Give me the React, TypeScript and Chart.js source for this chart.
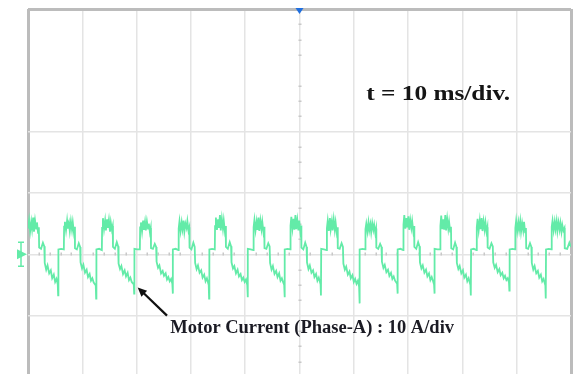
import React, { useEffect, useRef } from "react";
import { Chart, registerables } from "chart.js";

Chart.register(...registerables);

// Oscilloscope trace: time (ms) and phase-A current (A), one line per cycle
const timeMs = [
  0, 0.2, 0.4, 0.6, 0.75, 0.95, 1.1, 1.3, 1.5, 1.65, 1.85, 2.0, 2.05, 2.4, 2.75, 3.0, 3.08, 3.35, 3.6, 3.9, 4.2, 4.45, 4.75, 5.0, 5.25, 5.48, 5.55, 5.6, 6.1,
  6.6, 6.65, 6.8, 7.0, 7.2, 7.35, 7.55, 7.7, 7.9, 8.1, 8.25, 8.45, 8.6, 8.65, 9.0, 9.35, 9.6, 9.68, 9.95, 10.2, 10.5, 10.8, 11.05, 11.35, 11.6, 11.85, 12.1, 12.48, 12.55, 12.6, 13.1,
  13.6, 13.65, 13.8, 14.0, 14.2, 14.35, 14.55, 14.7, 14.9, 15.1, 15.25, 15.45, 15.6, 15.65, 16.0, 16.35, 16.6, 16.68, 16.95, 17.2, 17.5, 17.8, 18.05, 18.35, 18.6, 18.85, 19.1, 19.48, 19.55, 19.6, 20.1,
  20.6, 20.65, 20.8, 21.0, 21.2, 21.35, 21.55, 21.7, 21.9, 22.1, 22.25, 22.45, 22.6, 22.65, 23.0, 23.35, 23.6, 23.68, 23.95, 24.2, 24.5, 24.8, 25.05, 25.35, 25.6, 25.85, 26.1, 26.35, 26.58, 26.65, 26.7, 27.2,
  27.7, 27.75, 27.9, 28.1, 28.3, 28.45, 28.65, 28.8, 29.0, 29.2, 29.35, 29.55, 29.7, 29.75, 30.1, 30.45, 30.7, 30.78, 31.05, 31.3, 31.6, 31.9, 32.15, 32.45, 32.7, 32.95, 33.28, 33.35, 33.4, 33.9,
  34.4, 34.45, 34.6, 34.8, 35.0, 35.15, 35.35, 35.5, 35.7, 35.9, 36.05, 36.25, 36.4, 36.45, 36.8, 37.15, 37.4, 37.48, 37.75, 38.0, 38.3, 38.6, 38.85, 39.15, 39.4, 39.65, 39.9, 40.15, 40.38, 40.45, 40.5, 41.0,
  41.5, 41.55, 41.7, 41.9, 42.1, 42.25, 42.45, 42.6, 42.8, 43.0, 43.15, 43.35, 43.5, 43.55, 43.9, 44.25, 44.5, 44.58, 44.85, 45.1, 45.4, 45.7, 45.95, 46.25, 46.5, 46.75, 47.0, 47.18, 47.25, 47.3, 47.8,
  48.3, 48.35, 48.5, 48.7, 48.9, 49.05, 49.25, 49.4, 49.6, 49.8, 49.95, 50.15, 50.3, 50.35, 50.7, 51.05, 51.3, 51.38, 51.65, 51.9, 52.2, 52.5, 52.75, 53.05, 53.3, 53.55, 53.88, 53.95, 54.0, 54.5,
  55.0, 55.05, 55.2, 55.4, 55.6, 55.75, 55.95, 56.1, 56.3, 56.5, 56.65, 56.85, 57.0, 57.05, 57.4, 57.75, 58.0, 58.08, 58.35, 58.6, 58.9, 59.2, 59.45, 59.75, 60.0, 60.25, 60.5, 60.75, 60.98, 61.05, 61.1, 61.6,
  62.1, 62.15, 62.3, 62.5, 62.7, 62.85, 63.05, 63.2, 63.4, 63.6, 63.75, 63.95, 64.1, 64.15, 64.5, 64.85, 65.1, 65.18, 65.45, 65.7, 66.0, 66.3, 66.55, 66.85, 67.1, 67.35, 67.6, 67.98, 68.05, 68.1, 68.6,
  69.1, 69.15, 69.3, 69.5, 69.7, 69.85, 70.05, 70.2, 70.4, 70.6, 70.75, 70.95, 71.1, 71.15, 71.5, 71.85, 72.1, 72.18, 72.45, 72.7, 73.0, 73.3, 73.55, 73.85, 74.1, 74.35, 74.6, 74.78, 74.85, 74.9, 75.4,
  75.9, 75.95, 76.1, 76.3, 76.5, 76.65, 76.85, 77.0, 77.2, 77.4, 77.55, 77.75, 77.9, 77.95, 78.3, 78.65, 78.9, 78.98, 79.25, 79.5, 79.8, 80.1, 80.35, 80.65, 80.9, 81.15, 81.48, 81.55, 81.6, 82.1,
  82.6, 82.65, 82.8, 83.0, 83.2, 83.35, 83.55, 83.7, 83.9, 84.1, 84.25, 84.45, 84.6, 84.65, 85.0, 85.35, 85.6, 85.68, 85.95, 86.2, 86.5, 86.8, 87.05, 87.35, 87.6, 87.85, 88.1, 88.35, 88.58, 88.65, 88.7, 89.2,
  89.7, 89.75, 89.9, 90.1, 90.3, 90.45, 90.65, 90.8, 91.0, 91.2, 91.35, 91.55, 91.7, 91.75, 92.1, 92.45, 92.7, 92.78, 93.05, 93.3, 93.6, 93.9, 94.15, 94.45, 94.7, 94.95, 95.28, 95.35, 95.4, 95.9,
  96.4, 96.45, 96.6, 96.8, 97.0, 97.15, 97.35, 97.5, 97.7, 97.9, 98.05, 98.25, 98.4, 98.6, 98.8, 98.85, 99.3, 99.7, 100,
];

const currentA = [
  4.2, 5.6, 3.8, 5.3, 4.1, 6.0, 3.7, 5.5, 4.2, 5.2, 3.5, 4.4, 1.1, 0.9, 1.9, 1.3, -1.4, -2.5, -1.8, -3.1, -2.6, -3.9, -3.3, -4.5, -4.0, -4.9, -6.7, 0.8, 0.9,
  0.8, 4.5, 5.3, 3.9, 5.5, 4.2, 5.1, 3.8, 5.4, 4.0, 5.2, 3.6, 4.5, 1.0, 0.8, 1.8, 1.2, -1.3, -2.3, -1.7, -3.0, -2.5, -3.7, -3.2, -4.3, -3.9, -4.6, -5.1, -7.2, 0.8, 0.9,
  0.7, 4.3, 5.9, 4.1, 5.5, 3.9, 5.7, 4.3, 5.6, 3.7, 5.2, 4.0, 4.6, 1.2, 0.9, 2.0, 1.3, -1.5, -2.4, -1.9, -3.2, -2.6, -3.6, -3.0, -4.2, -3.8, -4.5, -4.9, -6.4, 0.9, 0.8,
  0.8, 4.4, 5.2, 3.7, 5.5, 4.0, 5.3, 3.9, 5.4, 4.2, 5.0, 3.6, 4.3, 1.0, 0.9, 1.7, 1.2, -1.2, -2.2, -1.8, -3.1, -2.7, -3.5, -3.1, -4.1, -3.7, -4.4, -4.0, -4.8, -6.4, 0.8, 0.9,
  0.7, 4.2, 5.4, 3.8, 5.2, 4.1, 5.5, 3.7, 5.0, 4.3, 5.4, 3.9, 4.4, 1.1, 0.8, 1.9, 1.2, -1.4, -2.4, -1.8, -3.0, -2.6, -3.8, -3.3, -4.4, -3.9, -5.0, -7.2, 0.8, 0.9,
  0.8, 4.6, 6.0, 4.0, 5.7, 4.3, 6.4, 3.9, 5.8, 4.2, 5.5, 3.8, 4.6, 1.2, 0.9, 2.0, 1.3, -1.3, -2.3, -1.9, -3.1, -2.5, -3.6, -3.2, -4.2, -3.8, -4.5, -4.1, -5.0, -7.0, 0.9, 0.8,
  0.7, 4.4, 5.6, 3.9, 5.3, 4.0, 6.0, 3.8, 5.5, 4.1, 5.3, 3.7, 4.5, 1.0, 0.9, 1.8, 1.3, -1.4, -2.5, -1.9, -3.2, -2.7, -3.7, -3.1, -4.3, -3.9, -4.6, -5.0, -7.0, 0.8, 0.9,
  0.8, 4.7, 6.1, 4.2, 5.8, 4.0, 6.4, 4.1, 5.6, 3.9, 5.5, 3.8, 4.7, 1.1, 0.8, 1.9, 1.2, -1.3, -2.4, -1.8, -3.0, -2.6, -3.7, -3.2, -4.3, -3.8, -4.9, -6.7, 0.9, 0.8,
  0.7, 4.3, 5.5, 3.8, 5.9, 4.1, 5.4, 3.9, 5.7, 4.0, 5.2, 3.6, 4.4, 1.0, 0.9, 1.8, 1.2, -1.5, -2.5, -2.0, -3.3, -2.8, -3.9, -3.4, -4.5, -4.0, -4.8, -4.3, -5.3, -8.0, 0.8, 0.9,
  0.8, 4.1, 5.0, 3.7, 5.2, 3.9, 4.9, 3.6, 5.1, 4.0, 4.8, 3.5, 4.2, 1.1, 0.9, 1.7, 1.2, -1.2, -2.2, -1.7, -2.9, -2.5, -3.5, -3.0, -4.0, -3.6, -4.3, -4.8, -6.4, 0.8, 0.9,
  0.7, 4.8, 6.4, 4.2, 5.9, 4.4, 6.2, 4.0, 5.6, 4.3, 5.4, 3.8, 4.6, 1.2, 0.9, 2.0, 1.3, -1.3, -2.3, -1.8, -3.0, -2.5, -3.6, -3.1, -4.2, -3.7, -4.4, -4.9, -6.4, 0.9, 0.8,
  0.8, 4.6, 6.3, 4.1, 5.7, 4.0, 6.4, 3.9, 5.8, 4.2, 5.3, 3.7, 4.5, 1.0, 0.8, 1.9, 1.2, -1.4, -2.4, -1.9, -3.1, -2.6, -3.8, -3.3, -4.4, -3.9, -5.0, -6.7, 0.8, 0.9,
  0.7, 4.4, 5.8, 3.9, 5.5, 4.1, 5.9, 3.8, 5.4, 4.0, 5.2, 3.7, 4.4, 1.1, 0.9, 1.8, 1.3, -1.3, -2.2, -1.7, -2.9, -2.4, -3.4, -3.0, -3.9, -3.5, -4.2, -3.9, -4.6, -5.9, 0.8, 0.9,
  0.8, 4.3, 5.5, 3.8, 5.2, 4.0, 5.4, 3.7, 5.1, 3.9, 5.3, 3.6, 4.3, 1.0, 0.9, 1.8, 1.2, -1.4, -2.5, -1.9, -3.1, -2.7, -3.8, -3.3, -4.4, -4.0, -5.1, -7.2, 0.8, 0.9,
  0.8, 4.5, 5.5, 3.9, 5.3, 4.1, 5.4, 3.8, 5.2, 4.0, 5.1, 3.7, 4.8, 3.9, 4.3, 1.0, 0.9, 1.9, 1.2,
];

// Screen: 10 ms/div horizontally, 10 A/div vertically
const timeRangeMs = [0, 100];
const currentRangeA = [-20, 40];
const hiddenGridA = [30];
const timebaseText = "t = 10 ms/div.";
const traceText = "Motor Current (Phase-A) : 10 A/div";

// annotation anchors (data coordinates)
const timebaseAt = { t: 62.3, a: 25.1 };
const labelAt = { t: 26.2, a: -12.9 };
const arrowFrom = { t: 25.6, a: -10.0 };
const arrowTo = { t: 20.2, a: -5.4 };

const TRACE = "#63eba8";
const SERIF = '"Liberation Serif", "Times New Roman", serif';

const scopePlugin = {
  id: "scopeDecor",
  beforeDatasetsDraw(chart: any) {
    const { ctx, scales } = chart;
    const xs = scales.x;
    const ys = scales.y;
    const y0 = ys.getPixelForValue(0);
    const xc = xs.getPixelForValue(50);
    ctx.save();
    ctx.fillStyle = "#c8c8c8";
    for (let t = timeRangeMs[0]; t <= timeRangeMs[1]; t += 2) {
      if (t % 10 === 0) continue;
      const px = xs.getPixelForValue(t);
      ctx.fillRect(Math.round(px) - 0.5, Math.round(y0) - 1.5, 1.5, 3);
    }
    for (let a = currentRangeA[0]; a <= currentRangeA[1]; a += 2.5) {
      if (a % 10 === 0) continue;
      const py = ys.getPixelForValue(a);
      ctx.fillRect(Math.round(xc) - 1.5, Math.round(py) - 0.5, 3, 1.5);
    }
    ctx.restore();
  },
  afterDatasetsDraw(chart: any) {
    const { ctx, chartArea, scales } = chart;
    const xs = scales.x;
    const ys = scales.y;
    ctx.save();
    // trigger marker
    const xc = xs.getPixelForValue(50);
    ctx.fillStyle = "#1f6fe0";
    ctx.beginPath();
    ctx.moveTo(xc - 4, chartArea.top - 1);
    ctx.lineTo(xc + 4, chartArea.top - 1);
    ctx.lineTo(xc, chartArea.top + 5);
    ctx.closePath();
    ctx.fill();

    // channel ground marker
    const y0 = ys.getPixelForValue(0);
    const gx = chartArea.left - 7;
    ctx.strokeStyle = TRACE;
    ctx.fillStyle = TRACE;
    ctx.lineWidth = 1.5;
    ctx.beginPath();
    ctx.moveTo(gx, y0 - 12);
    ctx.lineTo(gx, y0 + 12);
    ctx.moveTo(gx - 3, y0 - 12);
    ctx.lineTo(gx + 3, y0 - 12);
    ctx.moveTo(gx - 3, y0 + 12);
    ctx.lineTo(gx + 3, y0 + 12);
    ctx.stroke();
    ctx.beginPath();
    ctx.moveTo(gx - 4, y0 - 5);
    ctx.lineTo(gx + 6, y0);
    ctx.lineTo(gx - 4, y0 + 5);
    ctx.closePath();
    ctx.fill();

    // timebase text
    ctx.fillStyle = "#151515";
    ctx.textBaseline = "alphabetic";
    ctx.textAlign = "left";
    ctx.save();
    ctx.translate(xs.getPixelForValue(timebaseAt.t), ys.getPixelForValue(timebaseAt.a));
    ctx.scale(1.15, 1);
    ctx.font = `bold 22px ${SERIF}`;
    ctx.fillText(timebaseText, 0, 0);
    ctx.restore();

    // trace label
    ctx.font = `bold 18.5px ${SERIF}`;
    ctx.fillStyle = "#1b1b24";
    ctx.fillText(traceText, xs.getPixelForValue(labelAt.t), ys.getPixelForValue(labelAt.a));

    // arrow
    const x1 = xs.getPixelForValue(arrowFrom.t);
    const y1 = ys.getPixelForValue(arrowFrom.a);
    const x2 = xs.getPixelForValue(arrowTo.t);
    const y2 = ys.getPixelForValue(arrowTo.a);
    const ang = Math.atan2(y2 - y1, x2 - x1);
    const head = 10;
    ctx.strokeStyle = "#111";
    ctx.fillStyle = "#111";
    ctx.lineWidth = 2.2;
    ctx.beginPath();
    ctx.moveTo(x1, y1);
    ctx.lineTo(x2 - Math.cos(ang) * head * 0.7, y2 - Math.sin(ang) * head * 0.7);
    ctx.stroke();
    ctx.beginPath();
    ctx.moveTo(x2, y2);
    ctx.lineTo(x2 - Math.cos(ang - 0.42) * head, y2 - Math.sin(ang - 0.42) * head);
    ctx.lineTo(x2 - Math.cos(ang + 0.42) * head, y2 - Math.sin(ang + 0.42) * head);
    ctx.closePath();
    ctx.fill();
    ctx.restore();
  },
};

export default function App() {
  const ref = useRef<HTMLCanvasElement>(null);
  useEffect(() => {
    if (!ref.current) return;
    const points = timeMs.map((t, i) => ({ x: t, y: currentA[i] }));
    const edgeX = (v: number) => v === timeRangeMs[0] || v === timeRangeMs[1];
    const edgeY = (v: number) => v === currentRangeA[0] || v === currentRangeA[1];
    const chart = new Chart(ref.current, {
      type: "line",
      data: {
        datasets: [
          {
            data: points,
            borderColor: TRACE,
            borderWidth: 1.8,
            pointRadius: 0,
            tension: 0,
            fill: false,
          },
        ],
      },
      options: {
        responsive: false,
        animation: false,
        layout: { padding: { left: 28, top: 9, right: 4, bottom: 23 } },
        plugins: { legend: { display: false }, tooltip: { enabled: false } },
        scales: {
          x: {
            type: "linear",
            min: timeRangeMs[0],
            max: timeRangeMs[1],
            ticks: { display: false, stepSize: 10 },
            grid: {
              drawTicks: false,
              color: (c: any) => (edgeX(c.tick?.value) ? "#bcbcbc" : "#e4e4e4"),
              lineWidth: (c: any) => (edgeX(c.tick?.value) ? 3 : 1.5),
            },
            border: { display: false },
          },
          y: {
            type: "linear",
            min: currentRangeA[0],
            max: currentRangeA[1],
            ticks: { display: false, stepSize: 10 },
            grid: {
              drawTicks: false,
              color: (c: any) =>
                hiddenGridA.includes(c.tick?.value)
                  ? "rgba(0,0,0,0)"
                  : edgeY(c.tick?.value)
                  ? "#bcbcbc"
                  : "#e4e4e4",
              lineWidth: (c: any) => (edgeY(c.tick?.value) ? 3 : 1.5),
            },
            border: { display: false },
          },
        },
      },
      plugins: [scopePlugin],
    });
    return () => chart.destroy();
  }, []);
  return (
    <div
      style={{
        position: "fixed",
        left: 0,
        top: 0,
        width: 575,
        height: 374,
        overflow: "hidden",
        background: "#fff",
      }}
    >
      <canvas ref={ref} width={575} height={400} style={{ display: "block" }} />
    </div>
  );
}
